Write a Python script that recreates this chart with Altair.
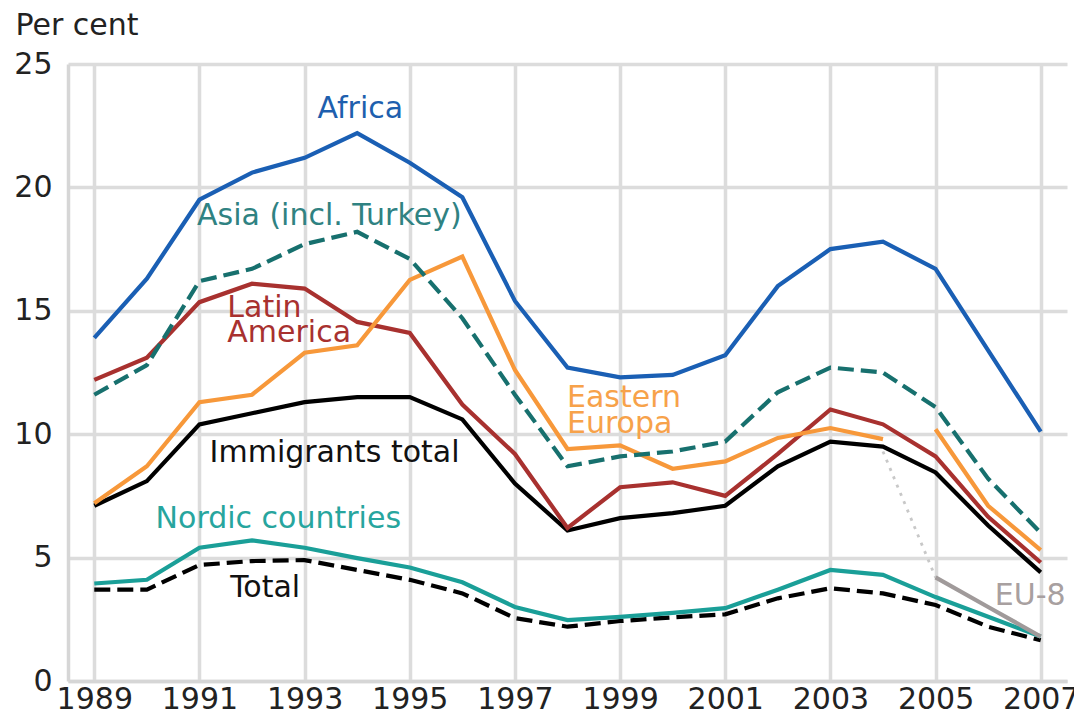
import altair as alt
import pandas as pd

years = list(range(1989, 2008))
africa = [13.9, 16.3, 19.5, 20.6, 21.2, 22.2, 21.0, 19.6, 15.4, 12.7, 12.3, 12.4, 13.2, 16.0, 17.5, 17.8, 16.7, 13.4, 10.1]
asia = [11.6, 12.8, 16.2, 16.7, 17.7, 18.2, 17.1, 14.7, 11.6, 8.7, 9.1, 9.3, 9.7, 11.7, 12.7, 12.5, 11.1, 8.2, 6.0]
latin = [12.2, 13.1, 15.35, 16.1, 15.9, 14.55, 14.1, 11.2, 9.2, 6.2, 7.85, 8.05, 7.5, 9.2, 11.0, 10.4, 9.1, 6.65, 4.8]
immigrants = [7.1, 8.1, 10.4, 10.85, 11.3, 11.5, 11.5, 10.6, 8.0, 6.1, 6.6, 6.8, 7.1, 8.7, 9.7, 9.5, 8.45, 6.3, 4.4]
nordic = [3.95, 4.1, 5.4, 5.7, 5.4, 4.98, 4.6, 4.0, 3.0, 2.47, 2.6, 2.76, 2.95, 3.7, 4.5, 4.3, 3.4, 2.6, 1.8]
total = [3.7, 3.7, 4.7, 4.86, 4.9, 4.5, 4.1, 3.55, 2.55, 2.2, 2.43, 2.58, 2.7, 3.35, 3.76, 3.55, 3.08, 2.2, 1.65]
eastern_years_a = list(range(1989, 2005))
eastern_a = [7.2, 8.7, 11.3, 11.6, 13.3, 13.6, 16.25, 17.2, 12.6, 9.4, 9.55, 8.6, 8.9, 9.85, 10.25, 9.8]
eastern_years_b = [2005, 2006, 2007]
eastern_b = [10.2, 7.1, 5.3]
eu8_years = [2005, 2006, 2007]
eu8 = [4.2, 3.0, 1.8]
eu8_dot_years = [2004, 2005]
eu8_dot = [9.3, 4.2]

label_text = ["Africa", "Asia (incl. Turkey)", "Immigrants total", "Nordic countries", "Total", "EU-8"]
label_x = [1994.06, 1993.47, 1993.57, 1992.5, 1992.25, 2006.8]
label_y = [22.81, 18.48, 8.87, 6.2, 3.40, 3.08]
label_color = ["#1e5fae", "#2f8282", "#111111", "#27a59e", "#111111", "#a8a0a0"]

left_text = ["Latin", "America", "Eastern", "Europa"]
left_x = [1991.53, 1991.53, 1997.99, 1997.99]
left_y = [14.75, 13.74, 11.10, 10.05]
left_color = ["#a8312f", "#a8312f", "#f7a24a", "#f7a24a"]

FONT = "DejaVu Sans"

x_enc = alt.X("year:Q",
              scale=alt.Scale(domain=[1988.5, 2007.5], nice=False, zero=False),
              axis=alt.Axis(values=list(range(1989, 2008, 2)), format="d", title=None,
                            labelPadding=3, labelFlush=False))
y_enc = alt.Y("value:Q",
              scale=alt.Scale(domain=[0, 25], nice=False),
              axis=alt.Axis(values=[0, 5, 10, 15, 20, 25], title="Per cent",
                            titleAngle=0, titleAlign="left", titleBaseline="alphabetic",
                            titleX=-53, titleY=-30, titleFont=FONT, titleFontSize=30,
                            titleFontWeight="normal", titleColor="#222222",
                            labelPadding=16))


def frame(ys, vals, seg=0):
    return pd.DataFrame({"year": ys, "value": vals, "seg": [seg] * len(ys)})


def line(df, color, dash=None, width=4.2):
    kw = dict(color=color, strokeWidth=width)
    if dash is not None:
        kw["strokeDash"] = dash
    return alt.Chart(df).mark_line(**kw).encode(x=x_enc, y=y_enc, detail="seg:N")


eastern_df = pd.concat([frame(eastern_years_a, eastern_a, 0), frame(eastern_years_b, eastern_b, 1)])

layers = [
    line(frame(eu8_dot_years, eu8_dot), "#c8c8c8", dash=[3, 6], width=2.8),
    line(frame(years, total), "#000000", dash=[16, 7]),
    line(frame(years, nordic), "#1a9f98"),
    line(frame(years, immigrants), "#000000"),
    line(frame(years, latin), "#a8312f"),
    line(eastern_df, "#f7983a"),
    line(frame(years, asia), "#17706e", dash=[16, 7]),
    line(frame(years, africa), "#1a5fb4"),
    line(frame(eu8_years, eu8), "#a09a9a"),
]

lab_df = pd.DataFrame({"year": label_x, "value": label_y, "text": label_text, "c": label_color})
left_df = pd.DataFrame({"year": left_x, "value": left_y, "text": left_text, "c": left_color})

labels_c = alt.Chart(lab_df).mark_text(font=FONT, fontSize=30, align="center", baseline="alphabetic").encode(
    x=x_enc, y=y_enc, text="text:N", color=alt.Color("c:N", scale=None))
labels_l = alt.Chart(left_df).mark_text(font=FONT, fontSize=30, align="left", baseline="alphabetic").encode(
    x=x_enc, y=y_enc, text="text:N", color=alt.Color("c:N", scale=None))

chart = alt.layer(*layers, labels_c, labels_l).properties(
    width=999, height=617,
    padding={"left": 60, "top": 56, "right": 7, "bottom": 34},
    autosize=alt.AutoSizeParams(type="none"),
).configure_axis(
    grid=True, gridColor="#dcdcdc", gridWidth=3.5,
    domainColor="#d6d6d6", domainWidth=3.5, ticks=False,
    labelFont=FONT, labelFontSize=30, labelColor="#222222",
).configure_view(stroke=None)

chart.save("out.html", embed_options={"renderer": "svg", "actions": False})
